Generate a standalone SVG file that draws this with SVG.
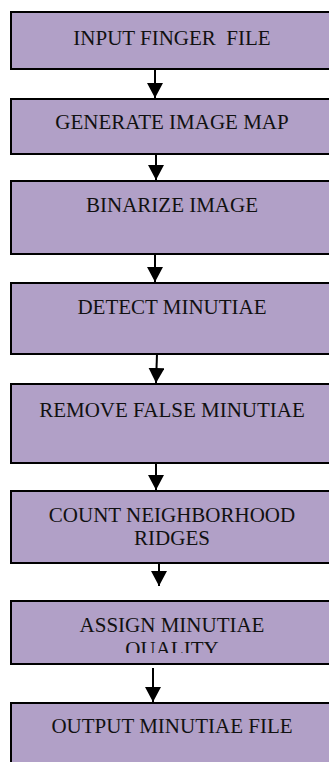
<svg xmlns="http://www.w3.org/2000/svg" width="329" height="762" viewBox="0 0 329 762">
<style>
.box{fill:#B1A0C7;stroke:#000;stroke-width:2}
.t{font-family:"Liberation Serif","Times New Roman",serif;font-size:21px;fill:#111;text-anchor:middle;white-space:pre}
.c{stroke:#000;stroke-width:2;fill:none}
</style>
<defs>
<marker id="ah" markerUnits="userSpaceOnUse" markerWidth="16" markerHeight="16" refX="15" refY="8" orient="auto">
<path d="M0,0 L15,8 L0,16 z" fill="#000"/>
</marker>
<clipPath id="clip7"><rect x="0" y="600" width="329" height="53"/></clipPath>
</defs>
<rect width="329" height="762" fill="#fff"/>
<g id="connectors">
<line class="c" x1="155" y1="69" x2="155" y2="98" marker-end="url(#ah)"/>
<line class="c" x1="156" y1="154" x2="156" y2="180" marker-end="url(#ah)"/>
<line class="c" x1="155" y1="254" x2="155" y2="282" marker-end="url(#ah)"/>
<line class="c" x1="157" y1="354" x2="156" y2="383" marker-end="url(#ah)"/>
<line class="c" x1="156" y1="463" x2="156" y2="490" marker-end="url(#ah)"/>
<line class="c" x1="159" y1="563" x2="159" y2="586" marker-end="url(#ah)"/>
<line class="c" x1="153" y1="668" x2="153" y2="702" marker-end="url(#ah)"/>
</g>
<g id="n1"><rect class="box" x="11" y="12" width="330" height="57"/><text class="t" x="172" y="45">INPUT FINGER  FILE</text></g>
<g id="n2"><rect class="box" x="11" y="99" width="330" height="55"/><text class="t" x="172" y="129">GENERATE IMAGE MAP</text></g>
<g id="n3"><rect class="box" x="11" y="181" width="330" height="73"/><text class="t" x="172" y="212">BINARIZE IMAGE</text></g>
<g id="n4"><rect class="box" x="11" y="283" width="330" height="71"/><text class="t" x="172" y="314">DETECT MINUTIAE</text></g>
<g id="n5"><rect class="box" x="11" y="384" width="330" height="79"/><text class="t" x="172" y="417">REMOVE FALSE MINUTIAE</text></g>
<g id="n6"><rect class="box" x="11" y="491" width="330" height="72"/><text class="t" x="172" y="522">COUNT NEIGHBORHOOD</text><text class="t" x="172" y="545">RIDGES</text></g>
<g id="n7"><rect class="box" x="11" y="601" width="330" height="63"/><text class="t" x="172" y="632">ASSIGN MINUTIAE</text><text class="t" x="172" y="656" clip-path="url(#clip7)">QUALITY</text></g>
<g id="n8"><rect class="box" x="11" y="703" width="330" height="70"/><text class="t" x="172" y="733">OUTPUT MINUTIAE FILE</text></g>
</svg>
